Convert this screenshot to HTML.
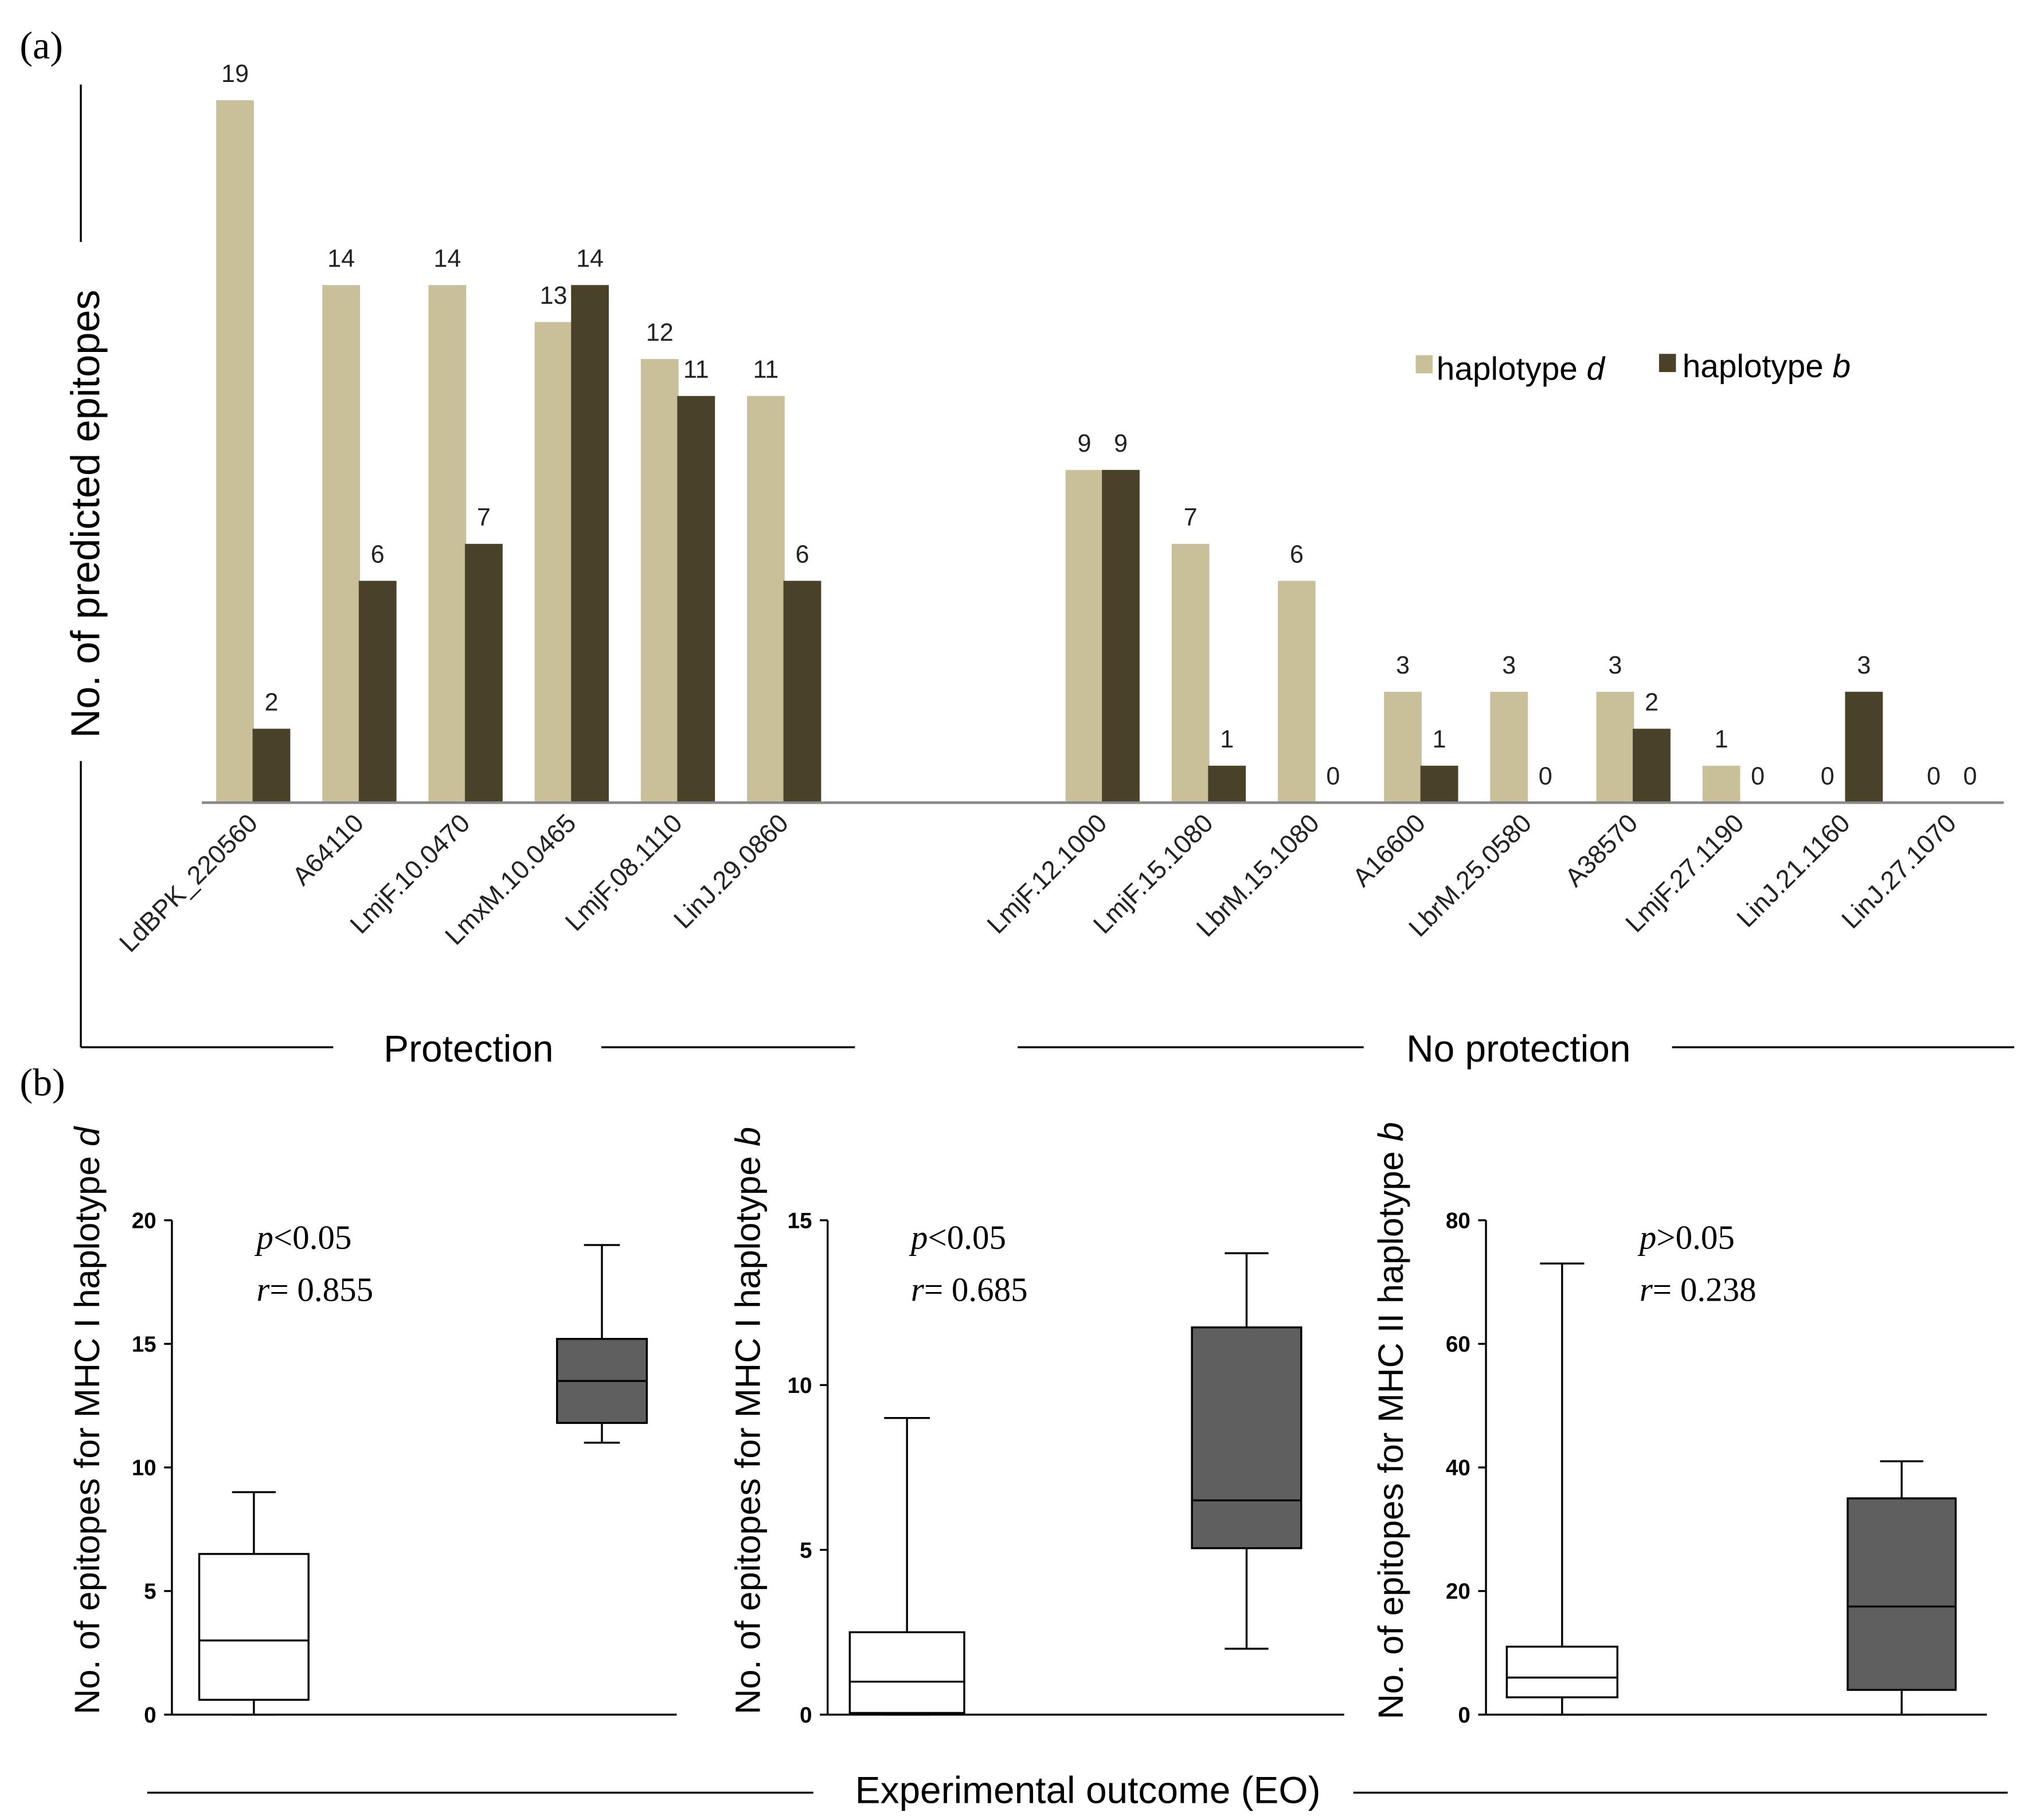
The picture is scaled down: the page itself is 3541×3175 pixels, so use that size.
<!DOCTYPE html>
<html><head><meta charset="utf-8"><style>
html,body{margin:0;padding:0;background:#fff}
svg{display:block}
.sans{font-family:"Liberation Sans",sans-serif}
.serif{font-family:"Liberation Serif",serif}
</style></head><body>
<svg id="chart" width="3541" height="3175" viewBox="0 0 1560 1399" xmlns="http://www.w3.org/2000/svg">
<rect width="1560" height="1399" fill="#fff"/>
<text class="serif" x="15" y="45" font-size="30">(a)</text>
<text class="serif" x="15" y="842" font-size="30">(b)</text>
<g id="pa"></g>
<g id="pb"></g>
</svg>
<script>
const categories=["LdBPK_220560","A64110","LmjF.10.0470","LmxM.10.0465","LmjF.08.1110","LinJ.29.0860","LmjF.12.1000","LmjF.15.1080","LbrM.15.1080","A16600","LbrM.25.0580","A38570","LmjF.27.1190","LinJ.21.1160","LinJ.27.1070"];
const groupOf=[0,0,0,0,0,0,1,1,1,1,1,1,1,1,1];
const haplotypeD=[19,14,14,13,12,11,9,7,6,3,3,3,1,0,0];
const haplotypeB=[2,6,7,14,11,6,9,1,0,1,0,2,0,3,0];

const boxTicks=[[0,5,10,15,20],[0,5,10,15],[0,20,40,60,80]];
const boxMax=[20,15,80];
const boxYLabels=["No. of epitopes for MHC I haplotype ","No. of epitopes for MHC I haplotype ","No. of epitopes for MHC II haplotype "];
const boxYItal=["d","b","b"];
const boxP=["p<0.05","p<0.05","p>0.05"];
const boxR=["0.855","0.685","0.238"];
// [min,q1,median,q3,max]
const boxWhite=[[0,0.6,3,6.5,9],[0,0.05,1,2.5,9],[0,2.8,6,11,73]];
const boxGrey=[[11,11.8,13.5,15.2,19],[2,5.05,6.5,11.75,14],[0,4,17.5,35,41]];

const NS="http://www.w3.org/2000/svg";
function mk(parent,tag,attrs,text){const e=document.createElementNS(NS,tag);for(const k in attrs)e.setAttribute(k,attrs[k]);if(text!=null)e.textContent=text;parent.appendChild(e);return e;}
function ital(parent,txt){const s=document.createElementNS(NS,'tspan');s.setAttribute('font-style','italic');s.textContent=txt;parent.appendChild(s);return s;}

// Panel a
const pa=document.getElementById('pa');
const base=617,unit=(617-77)/19;
const yA=v=>base-v*unit;
const slot=i=>i+groupOf[i]*2;
const xA=i=>166+slot(i)*81.6;
const bw=29;
for(let i=0;i<categories.length;i++){
  const x=xA(i);
  let r=mk(pa,'rect',{x:x,y:yA(haplotypeD[i]),width:bw,height:haplotypeD[i]*unit,fill:'#c9c09a'});
  
  
  r=mk(pa,'rect',{x:x+bw-1,y:yA(haplotypeB[i]),width:bw,height:haplotypeB[i]*unit,fill:'#4a4228'});
  
  
  let t=mk(pa,'text',{class:'sans',x:x+bw/2,y:yA(haplotypeD[i])-14,'font-size':19,'text-anchor':'middle',fill:'#222'},String(haplotypeD[i]));
  
  
  t=mk(pa,'text',{class:'sans',x:x+bw*1.5-1,y:yA(haplotypeB[i])-14,'font-size':19,'text-anchor':'middle',fill:'#222'},String(haplotypeB[i]));
  
  
  const lx=x+bw+4,ly=634;
  t=mk(pa,'text',{class:'sans',x:lx,y:ly,'font-size':20,'text-anchor':'end',transform:`rotate(-45 ${lx} ${ly})`,fill:'#222'},categories[i]);
  
  
}
let e=mk(pa,'line',{x1:155,y1:base,x2:1540,y2:base,stroke:'#888','stroke-width':2});


mk(pa,'line',{x1:62,y1:65,x2:62,y2:186,stroke:'#000','stroke-width':1.5});
mk(pa,'line',{x1:62,y1:585,x2:62,y2:805,stroke:'#000','stroke-width':1.5});
e=mk(pa,'text',{class:'sans',x:76,y:395,'font-size':31,'text-anchor':'middle',transform:'rotate(-90 76 395)'},'No. of predicted epitopes');


mk(pa,'line',{x1:62,y1:805,x2:256,y2:805,stroke:'#000','stroke-width':1.5});
mk(pa,'line',{x1:462,y1:805,x2:657,y2:805,stroke:'#000','stroke-width':1.5});
mk(pa,'line',{x1:782,y1:805,x2:1048,y2:805,stroke:'#000','stroke-width':1.5});
mk(pa,'line',{x1:1285,y1:805,x2:1548,y2:805,stroke:'#000','stroke-width':1.5});
e=mk(pa,'text',{class:'sans',x:360,y:816,'font-size':29,'text-anchor':'middle'},'Protection');


e=mk(pa,'text',{class:'sans',x:1167,y:816,'font-size':29,'text-anchor':'middle'},'No protection');


const lg=mk(pa,'g',{});


mk(lg,'rect',{x:1088,y:273,width:13,height:14,fill:'#c9c09a'});
ital(mk(lg,'text',{class:'sans',x:1104,y:292,'font-size':25},'haplotype '),'d');
mk(lg,'rect',{x:1275,y:272,width:13,height:14,fill:'#4a4228'});
ital(mk(lg,'text',{class:'sans',x:1293,y:290,'font-size':25},'haplotype '),'b');

// Panel b
const pb=document.getElementById('pb');
const ax=[132,636,1142],axEnd=[520,1033,1527];
const wx=[[153,237],[653,741],[1158,1243]],gx=[[428,497],[916,1000],[1420,1503]];
const txtX=[197,700,1260],ylx=[76,584,1078];
const yTop=938,yBot=1318;
function drawBox(g,xr,d,yf,fill){
  const cx=(xr[0]+xr[1])/2;
  mk(g,'line',{x1:cx,y1:yf(d[4]),x2:cx,y2:yf(d[3]),stroke:'#000','stroke-width':1.5});
  mk(g,'line',{x1:cx,y1:yf(d[1]),x2:cx,y2:yf(d[0]),stroke:'#000','stroke-width':1.5});
  const w=(xr[1]-xr[0])*0.4;
  mk(g,'line',{x1:cx-w/2,y1:yf(d[4]),x2:cx+w/2,y2:yf(d[4]),stroke:'#000','stroke-width':1.5});
  mk(g,'line',{x1:cx-w/2,y1:yf(d[0]),x2:cx+w/2,y2:yf(d[0]),stroke:'#000','stroke-width':1.5});
  mk(g,'rect',{x:xr[0],y:yf(d[3]),width:xr[1]-xr[0],height:yf(d[1])-yf(d[3]),fill:fill,stroke:'#000','stroke-width':1.5});
  mk(g,'line',{x1:xr[0],y1:yf(d[2]),x2:xr[1],y2:yf(d[2]),stroke:'#000','stroke-width':1.5});
}
for(let p=0;p<3;p++){
  const g=mk(pb,'g',{});
  
  
  const yf=v=>yBot-v/boxMax[p]*(yBot-yTop);
  mk(g,'line',{x1:ax[p],y1:yTop,x2:ax[p],y2:yBot,stroke:'#000','stroke-width':1.5});
  mk(g,'line',{x1:ax[p],y1:yBot,x2:axEnd[p],y2:yBot,stroke:'#000','stroke-width':1.5});
  boxTicks[p].forEach(t=>{
    mk(g,'line',{x1:ax[p]-6,y1:yf(t),x2:ax[p],y2:yf(t),stroke:'#000','stroke-width':1.5});
    const tl=mk(g,'text',{class:'sans',x:ax[p]-12,y:yf(t)+6,'font-size':17,'font-weight':'bold','text-anchor':'end'},String(t));
    
    
  });
  drawBox(g,wx[p],boxWhite[p],yf,'#fff');
  drawBox(g,gx[p],boxGrey[p],yf,'#5f5f5f');
  const yl=mk(g,'text',{class:'sans',x:ylx[p],y:1092,'font-size':27,'text-anchor':'middle',transform:`rotate(-90 ${ylx[p]} 1092)`},boxYLabels[p]);
  ital(yl,boxYItal[p]);
  
  
  const pt=mk(g,'text',{class:'serif',x:txtX[p],y:960,'font-size':26});
  ital(pt,boxP[p][0]);
  pt.appendChild(document.createTextNode(boxP[p].slice(1)));
  
  
  const rt=mk(g,'text',{class:'serif',x:txtX[p],y:1000,'font-size':26});
  ital(rt,'r');
  rt.appendChild(document.createTextNode('= '+boxR[p]));
  
  
}
mk(pb,'line',{x1:113,y1:1378,x2:625,y2:1378,stroke:'#000','stroke-width':1.5});
mk(pb,'line',{x1:1040,y1:1378,x2:1543,y2:1378,stroke:'#000','stroke-width':1.5});
e=mk(pb,'text',{class:'sans',x:836,y:1386,'font-size':29,'text-anchor':'middle'},'Experimental outcome (EO)');


</script>
</body></html>
